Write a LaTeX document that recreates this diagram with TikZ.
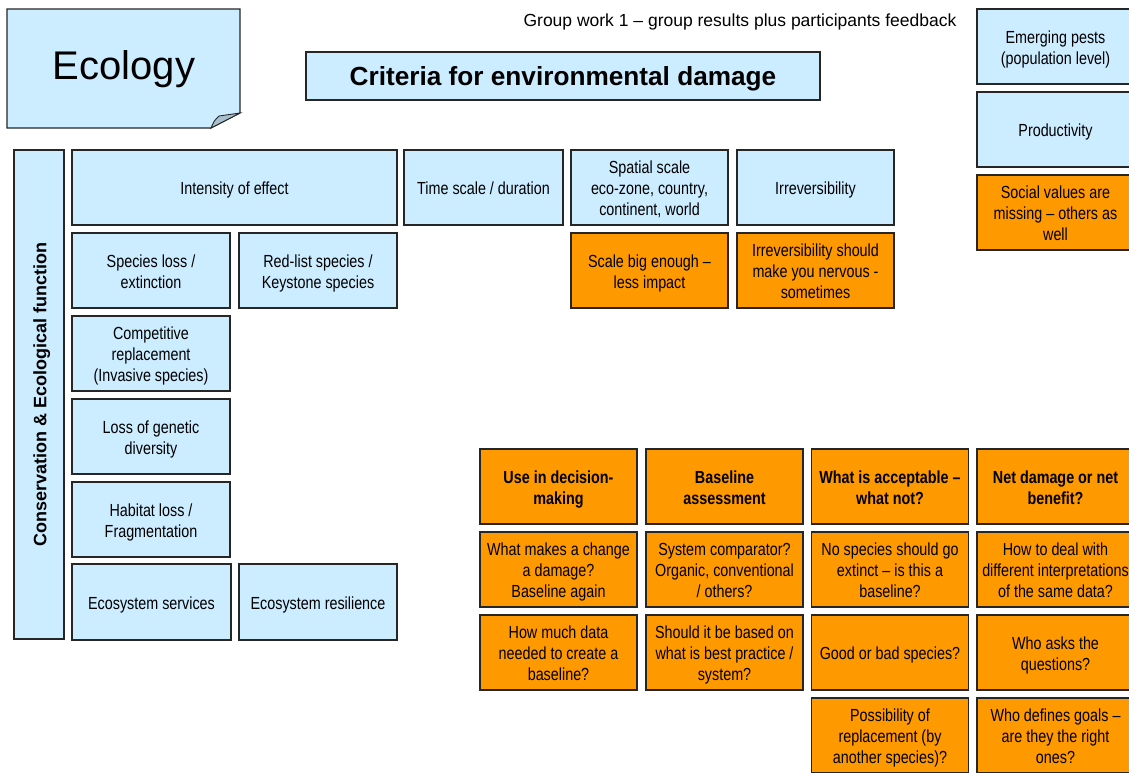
\documentclass[tikz,border=0pt]{standalone}
\usepackage{fontspec}
\setmainfont{Liberation Sans}
\newfontfamily\boxfont{Liberation Sans}[FakeStretch=0.82]
\definecolor{skyfill}{HTML}{CCECFF}
\definecolor{orangefill}{HTML}{FF9900}
\definecolor{foldfill}{HTML}{A7BFCE}
\definecolor{edge}{HTML}{262626}
\tikzset{
  cell/.style={draw=edge, line width=1.1pt, inner xsep=0pt, inner ysep=0pt,
    align=center, minimum width=157pt, minimum height=75pt,
    font=\boxfont\fontsize{17.5}{21}\selectfont,
    % fixed block height and depth keep the text block centred
    execute at begin node={\rule{0pt}{18.5pt}},
    execute at end node={\rule[-4pt]{0pt}{4pt}}},
  lines2/.style={execute at begin node={\rule[21pt]{0pt}{18.5pt}}},
  lines3/.style={execute at begin node={\rule[42pt]{0pt}{18.5pt}}},
  skybox/.style={cell, fill=skyfill},
  orangebox/.style={cell, fill=orangefill},
  headbox/.style={orangebox, font=\boxfont\bfseries\fontsize{17.5}{21}\selectfont}
}
\begin{document}
\begin{tikzpicture}[x=1pt,y=-1pt]
\useasboundingbox (0,0) rectangle (1129,772);
\clip (0,0) rectangle (1129,772);
\fill[white] (0,0) rectangle (1129,772);

% sticky note with folded corner
\draw[fill=skyfill, draw=edge, line width=1.1pt]
  (7,9) -- (240,9) -- (240,113) -- (211,128) -- (7,128) -- cycle;
\draw[fill=foldfill, draw=edge, line width=0.9pt]
  (211,128) .. controls (214,121) .. (219,116) -- (240,113) -- cycle;
\node (ecology) at (124,69) {\fontsize{40}{44}\selectfont Ecology};

\node (header) at (740,22) {\fontsize{17.5}{21}\selectfont Group work 1 – group results plus participants feedback};

\node[skybox, minimum width=514pt, minimum height=48pt,
  font=\bfseries\fontsize{26.2}{30}\selectfont,
  execute at begin node={\rule{0pt}{24.8pt}},
  execute at end node={\rule[-6pt]{0pt}{6pt}}] (title) at (563,76)
  {Criteria for environmental damage};

% right-hand column
\node[skybox, lines2] (pests) at (1055.5,46.5) {Emerging pests\\(population level)};
\node[skybox] (prod) at (1055.5,129.5) {Productivity};
\node[orangebox, lines3] (social) at (1055.5,212.5) {Social values are\\missing – others as\\well};

% conservation & ecological function
\node[skybox, rotate=90, minimum width=489pt, minimum height=50pt,
  font=\bfseries\fontsize{18}{22}\selectfont] (side) at (39,394.5)
  {Conservation \& Ecological function};
\node[skybox, minimum width=325pt] (intensity) at (234.5,187.5) {Intensity of effect};
\node[skybox, minimum width=159pt] (time) at (483.5,187.5) {Time scale / duration};
\node[skybox, lines3] (spatial) at (649.5,187.5) {Spatial scale\\eco-zone, country,\\continent, world};
\node[skybox] (irrev) at (815.5,187.5) {Irreversibility};
\node[orangebox, lines2] (scale) at (649.5,270.5) {Scale big enough –\\less impact};
\node[orangebox, lines3] (nervous) at (815.5,270.5) {Irreversibility should\\make you nervous -\\sometimes};

\node[skybox, lines2, minimum width=158pt] (species) at (151,270.5) {Species loss /\\extinction};
\node[skybox, lines2, minimum width=158pt] (redlist) at (318,270.5) {Red-list species /\\Keystone species};
\node[skybox, lines3, minimum width=158pt] (competitive) at (151,353.5) {Competitive\\replacement\\(Invasive species)};
\node[skybox, lines2, minimum width=158pt] (genetic) at (151,436.5) {Loss of genetic\\diversity};
\node[skybox, lines2, minimum width=158pt] (habitat) at (151,519.5) {Habitat loss /\\Fragmentation};
\node[skybox, minimum width=159pt, minimum height=76pt] (services) at (151.5,602) {Ecosystem services};
\node[skybox, minimum width=158pt, minimum height=76pt] (resilience) at (318,602) {Ecosystem resilience};

% question grid
\node[headbox, lines2] (decision) at (558.5,486.5) {Use in decision-\\making};
\node[headbox, lines2] (baseline) at (724.5,486.5) {Baseline\\assessment};
\node[headbox, lines2] (acceptable) at (890,486.5) {What is acceptable –\\what not?};
\node[headbox, lines2] (net) at (1055.5,486.5) {Net damage or net\\benefit?};

\node[orangebox, lines3] (change) at (558.5,569.5) {What makes a change\\a damage?\\Baseline again};
\node[orangebox, lines3] (comparator) at (724.5,569.5) {System comparator?\\Organic, conventional\\/ others?};
\node[orangebox, lines3] (extinct) at (890,569.5) {No species should go\\extinct – is this a\\baseline?};
\node[orangebox, lines3] (interpret) at (1055.5,569.5) {How to deal with\\different interpretations\\of the same data?};

\node[orangebox, lines3] (data) at (558.5,652.5) {How much data\\needed to create a\\baseline?};
\node[orangebox, lines3] (practice) at (724.5,652.5) {Should it be based on\\what is best practice /\\system?};
\node[orangebox] (goodbad) at (890,652.5) {Good or bad species?};
\node[orangebox, lines2] (asks) at (1055.5,652.5) {Who asks the\\questions?};

\node[orangebox, lines3] (replace) at (890,735.5) {Possibility of\\replacement (by\\another species)?};
\node[orangebox, lines3] (goals) at (1055.5,735.5) {Who defines goals –\\are they the right\\ones?};
\end{tikzpicture}
\end{document}
